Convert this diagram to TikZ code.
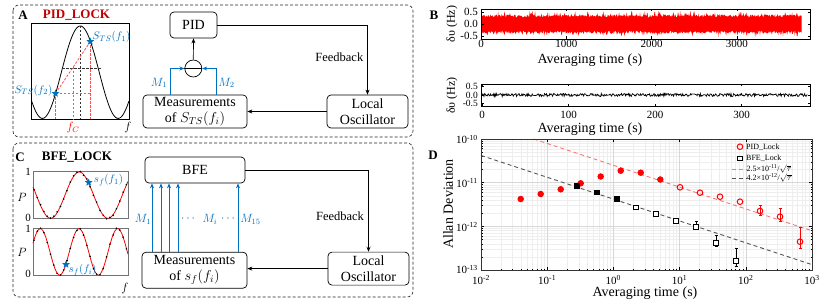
\documentclass[tikz,border=0pt]{standalone}
\usepackage{fontspec}
\setmainfont{Liberation Serif}
\usetikzlibrary{arrows.meta,shapes.geometric}
\definecolor{myblue}{RGB}{0,112,192}
\definecolor{darkred}{RGB}{192,0,0}
\definecolor{lred}{RGB}{245,120,120}
\definecolor{rdash}{RGB}{255,80,80}
\definecolor{dgray}{RGB}{85,85,85}
\definecolor{gmaj}{RGB}{215,215,215}
\definecolor{gmin}{RGB}{238,238,238}
\begin{document}
\begin{tikzpicture}[x=1pt,y=-1pt,
  panel/.style={draw=black!85, dash pattern=on 3pt off 2pt, rounded corners=6pt, line width=0.6pt},
  blk/.style={draw, rounded corners=4pt, line width=0.7pt, align=center, inner sep=0pt, font=\fontsize{14}{15.5}\selectfont},
  arr/.style={-{Stealth[length=5pt,width=4pt]}, line width=0.7pt},
  barr/.style={-{Stealth[length=5pt,width=4pt]}, line width=0.95pt, color=myblue},
  plbl/.style={font=\bfseries\fontsize{13}{15}\selectfont},
  bm/.style={text=myblue, font=\fontsize{12}{14}\selectfont},
  fb/.style={font=\fontsize{12.5}{14}\selectfont},
  rdsh/.style={draw=rdash, dash pattern=on 2.5pt off 1.5pt, line width=0.8pt},
  bdsh/.style={draw=black!80, dash pattern=on 2.5pt off 1.5pt, line width=0.7pt},
  tick/.style={font=\fontsize{11}{12}\selectfont, inner sep=0pt},
  stick/.style={font=\fontsize{9.5}{10}\selectfont, inner sep=0pt},
  axl/.style={font=\fontsize{14}{16}\selectfont, inner sep=0pt},
  dtick/.style={font=\fontsize{11}{12}\selectfont, inner sep=0pt},
  lg/.style={font=\fontsize{8}{9}\selectfont, anchor=west, inner sep=0pt},
  bstar/.style={star, star points=5, star point ratio=2.3, fill=myblue, inner sep=0pt, minimum size=8pt}
]
\useasboundingbox (0,0) rectangle (830,302);

% ---------------- panel frames
\draw[panel] (13,5) rectangle (413,137);
\draw[panel] (13,143) rectangle (413,297);

% ---------------- panel A
\node[plbl] (lA) at (23,15) {A};
\node[plbl, text=darkred] (tA) at (76.5,15) {PID\_LOCK};
\draw[line width=0.7pt] (31.3,23.5) rectangle (129,119.3);
\draw[line width=0.8pt] plot[domain=31.3:129, samples=120] (\x,{72.2-46.2*cos(4.7556*(\x-80.3))});
\draw[bdsh] (80.3,26) -- (80.3,119.3);
\draw[bdsh] (62.3,68.3) -- (100.7,68.3);
\coordinate (p2) at (55.5,93.5);
\coordinate (p1) at (90.3,41.5);
\draw[rdsh] (p2) -- (p1);
\draw[rdsh] (p2) -- (91.3,93.5);
\draw[rdsh] (p2) -- (55.5,119.3);
\draw[rdsh] (p1) -- (90.3,119.3);
\draw[rdsh] (73,67) -- (73,119.3);
\node[bstar] at (p1) {};
\node[bstar] at (p2) {};
\node[text=myblue, font=\fontsize{11}{12}\selectfont] at (111.5,37) {$S_{TS}(f_1)$};
\node[text=myblue, font=\fontsize{11}{12}\selectfont] at (33.5,90.5) {$S_{TS}(f_2)$};
\node[text=red, font=\fontsize{12}{13}\selectfont] at (73,128) {$f_C$};
\node[font=\fontsize{12}{13}\selectfont] at (128,128) {$f$};

\node[blk, minimum width=47pt, minimum height=26pt] (pid) at (193.5,25) {PID};
\node[blk, minimum width=104pt, minimum height=33pt] (measA) at (195,111.5) {Measurements\\of $S_{TS}(f_i)$};
\node[blk, minimum width=81pt, minimum height=33pt] (loA) at (367.5,111.5) {Local\\Oscillator};
\node[circle, draw, line width=0.7pt, minimum size=17pt, inner sep=0pt] (cmp) at (193.3,68.5) {};
\draw[line width=0.7pt] (cmp.west) -- (cmp.east);
\draw[arr] (cmp.north) -- (pid.south);
\draw[barr] (170.7,0 |- measA.north) |- (cmp.west);
\draw[barr] (216,0 |- measA.north) |- (cmp.east);
\node[bm] at (159,83) {$M_1$};
\node[bm] at (226.5,83) {$M_2$};
\draw[arr] (pid.east) -| (loA.north);
\node[fb] at (339.3,57.3) {Feedback};
\draw[arr] (loA.west) -- (loA.west -| measA.east);

% ---------------- panel C
\node[plbl] (lC) at (20,157) {C};
\node[plbl] (tC) at (77,157) {BFE\_LOCK};
% top plot
\draw[line width=0.7pt, draw=black!55] (33,171) rectangle (128,218.3);
\draw[red, line width=0.8pt] plot[domain=33:128, samples=120] (\x,{218.3-46.3*(1+cos(6.2827*(\x-79.3)))/2});
\pgfmathsetseed{5}
\foreach \i in {0,...,28} {
  \pgfmathsetmacro\xx{34+3.3*\i}
  \pgfmathsetmacro\yy{218.3-46.3*(1+cos(6.2827*(\xx-79.3)))/2+1.0*rand}
  \fill (\xx,\yy) circle (0.9pt);
}
\node[bstar] at (88.7,182.5) {};
\node[text=myblue, font=\fontsize{11}{12}\selectfont] at (108.5,180) {$s_f(f_1)$};
\node[tick] at (28,172) {1};
\node[tick] at (28,218) {0};
\node[font=\fontsize{12}{13}\selectfont] at (22,197) {$P$};
% bottom plot
\draw[line width=0.7pt, draw=black!55] (33,228.3) rectangle (128,275);
\draw[red, line width=0.8pt] plot[domain=33:128, samples=150] (\x,{275-46.3*(1+cos(9.3023*(\x-79)))/2});
\foreach \i in {0,...,28} {
  \pgfmathsetmacro\xx{34+3.3*\i}
  \pgfmathsetmacro\yy{275-46.3*(1+cos(9.3023*(\xx-79)))/2+1.0*rand}
  \fill (\xx,\yy) circle (0.9pt);
}
\node[bstar] at (66,264.5) {};
\node[text=myblue, font=\fontsize{11}{12}\selectfont] at (82.5,270) {$s_f(f_i)$};
\node[tick] at (28,229) {1};
\node[tick] at (28,274) {0};
\node[font=\fontsize{12}{13}\selectfont] at (22,252) {$P$};
\node[font=\fontsize{12}{13}\selectfont] at (125,288) {$f$};

\node[blk, minimum width=100pt, minimum height=26pt] (bfe) at (195,170) {BFE};
\node[blk, minimum width=105pt, minimum height=36pt] (measC) at (194.5,270.2) {Measurements\\of $s_f(f_i)$};
\node[blk, minimum width=81pt, minimum height=33pt] (loC) at (368.5,268.6) {Local\\Oscillator};
\foreach \xx in {152,161,169,178,238} {
  \draw[barr] (\xx,0 |- measC.north) -- (\xx,0 |- bfe.south);
}
\node[bm] at (143,219) {$M_1$};
\node[bm] at (188,219) {$\cdots$};
\node[bm] at (210,219) {$M_i$};
\node[bm] at (228,219) {$\cdots$};
\node[bm] at (250.5,219) {$M_{15}$};
\draw[arr] (bfe.east) -| (loC.north);
\node[fb] at (340,216) {Feedback};
\draw[arr] (loC.west) -- (loC.west -| measC.east);

% ---------------- panel B
\node[plbl] (lB) at (434,15) {B};
\pgfmathsetseed{11}
\fill[red] plot[domain=0:3760, samples=600] ({481+0.0853*\x},{24-24*(0.27+0.12*rnd+0.18*rnd^6)})
  -- plot[domain=3760:0, samples=600] ({481+0.0853*\x},{24+24*(0.27+0.12*rnd+0.18*rnd^6)}) -- cycle;
\draw[line width=0.6pt] (481,9) rectangle (810,39);
\foreach \t/\l in {0/0,1000/1000,2000/2000,3000/3000} {
  \draw[line width=0.5pt] ({481+0.0853*\t},39) -- ++(0,-2.5);
  \draw[line width=0.5pt] ({481+0.0853*\t},9) -- ++(0,2.5);
  \node[tick] at ({481+0.0853*\t},44) {\l};
}
\foreach \v/\l in {12/0.5,24/0.0,36/-0.5} {
  \draw[line width=0.5pt] (481,\v) -- ++(2.5,0);
  \draw[line width=0.5pt] (810,\v) -- ++(-2.5,0);
  \node[tick, anchor=east] at (478,\v) {\l};
}
\node[axl] at (590,60) {Averaging time (s)};
\node[rotate=90, font=\fontsize{12}{13}\selectfont] at (452,24) {δυ (Hz)};

\draw[black, line width=0.7pt] plot[domain=0:376, samples=500] ({482+0.865*\x},{95-17*(0.09*rand)});
\draw[line width=0.6pt] (481,84) rectangle (810,106.5);
\foreach \t/\l in {0/0,100/100,200/200,300/300} {
  \draw[line width=0.5pt] ({482+0.865*\t},106.5) -- ++(0,-2.5);
  \draw[line width=0.5pt] ({482+0.865*\t},84) -- ++(0,2.5);
  \node[tick] at ({482+0.865*\t},115) {\l};
}
\foreach \v/\l in {86.5/0.5,95/0.0,103.5/-0.5} {
  \draw[line width=0.5pt] (481,\v) -- ++(2.5,0);
  \draw[line width=0.5pt] (810,\v) -- ++(-2.5,0);
  \node[stick, anchor=east] at (478,\v) {\l};
}
\node[axl] at (590,129) {Averaging time (s)};
\node[rotate=90, font=\fontsize{12}{13}\selectfont] at (452,95.5) {δυ (Hz)};

% ---------------- panel D
\node[plbl] (lD) at (433,155) {D};
\begin{scope}[xshift=481pt, yshift=-270pt, x=66.2pt, y=43.67pt]
  \foreach \d in {0,...,4} \foreach \m in {2,...,9} {
    \draw[gmin, line width=0.3pt] ({\d+log10(\m)},0) -- ({\d+log10(\m)},3);
    \draw[line width=0.4pt] ({\d+log10(\m)},0) -- ++(0,1.5pt);
    \draw[line width=0.4pt] ({\d+log10(\m)},3) -- ++(0,-1.5pt);
  }
  \foreach \d in {0,...,2} \foreach \m in {2,...,9} {
    \draw[gmin, line width=0.3pt] (0,{\d+log10(\m)}) -- (5,{\d+log10(\m)});
    \draw[line width=0.4pt] (0,{\d+log10(\m)}) -- ++(1.5pt,0);
    \draw[line width=0.4pt] (5,{\d+log10(\m)}) -- ++(-1.5pt,0);
  }
  \foreach \d in {1,...,4} {
    \draw[gmaj, line width=0.6pt] (\d,0) -- (\d,3);
    \draw[line width=0.5pt] (\d,0) -- ++(0,3pt);
    \draw[line width=0.5pt] (\d,3) -- ++(0,-3pt);
  }
  \foreach \d in {1,2} {
    \draw[gmaj, line width=0.6pt] (0,\d) -- (5,\d);
    \draw[line width=0.5pt] (0,\d) -- ++(3pt,0);
    \draw[line width=0.5pt] (5,\d) -- ++(-3pt,0);
  }
  \draw[lred, dash pattern=on 4pt off 3pt, line width=0.9pt] (0.796,3) -- (5,0.898);
  \draw[dgray, dash pattern=on 4pt off 3pt, line width=0.9pt] (0,2.623) -- (5,0.123);
  \draw[line width=0.8pt, draw=black!80] (0,0) rectangle (5,3);
\end{scope}
% data: PID
\foreach \xx/\yy in {520.7/199,540.7/194,560.7/189.3,580.7/183.3,600.7/176.5,620.7/170.7,640.7/172.7,660.3/179.5} {
  \draw[red, fill=red, line width=0.8pt] (\xx,\yy) circle (2.8pt);
}
\foreach \xx/\a/\b in {760/205.5/215,780/208.3/221,800/227.3/248} {
  \draw[red, line width=0.9pt] (\xx,\a) -- (\xx,\b);
  \draw[red, line width=0.9pt] (\xx-1.5,\a) -- (\xx+1.5,\a);
  \draw[red, line width=0.9pt] (\xx-1.5,\b) -- (\xx+1.5,\b);
}
\foreach \xx/\yy in {680/187.3,700/192.7,720/196.7,740/201.7,760/211,780/216.7,800/241.7} {
  \draw[red, line width=1pt] (\xx,\yy) circle (2.8pt);
}
% data: BFE
\foreach \xx/\a/\b in {696/221/229.3,716/235/246.7,736/248.3/266.7} {
  \draw[black, line width=0.9pt] (\xx,\a) -- (\xx,\b);
  \draw[black, line width=0.9pt] (\xx-1.5,\a) -- (\xx+1.5,\a);
  \draw[black, line width=0.9pt] (\xx-1.5,\b) -- (\xx+1.5,\b);
}
\foreach \xx/\yy in {576.7/186,596.7/192.3,616.7/199} {
  \draw[black, fill=black, line width=0.8pt] (\xx-2.3,\yy-2.3) rectangle (\xx+2.3,\yy+2.3);
}
\foreach \xx/\yy in {636/207.3,656/214,676/220.7,696/226.7,716/242.7,736/260.7} {
  \draw[black, fill=white, line width=0.9pt] (\xx-2.3,\yy-2.3) rectangle (\xx+2.3,\yy+2.3);
}
% legend
\draw[red, line width=1pt] (740,146.7) circle (2.8pt);
\node[lg] at (746,147) {PID\_Lock};
\draw[black, line width=0.9pt] (737.7,156) rectangle (742.3,160.6);
\node[lg] at (746,158.3) {BFE\_Lock};
\draw[lred, dash pattern=on 4pt off 3pt, line width=0.9pt] (731.7,169.3) -- (746,169.3);
\node[lg] at (746.5,169.3) {2.5×10\textsuperscript{-11}/$\sqrt{\tau}$};
\draw[dgray, dash pattern=on 4pt off 3pt, line width=0.9pt] (731.7,178.3) -- (746,178.3);
\node[lg] at (746.5,178.3) {4.2×10\textsuperscript{-12}/$\sqrt{\tau}$};
% axis labels
\foreach \d/\e in {0/-2,1/-1,2/0,3/1,4/2,5/3} {
  \node[dtick] at ({481+66.2*\d},280) {10\textsuperscript{\e}};
}
\foreach \yy/\e in {139/-10,182.7/-11,226.3/-12,269/-13} {
  \node[dtick, anchor=east] at (478,\yy+0.5) {10\textsuperscript{\e}};
}
\node[axl, rotate=90] at (448,204) {Allan Deviation};
\node[axl] at (645,293) {Averaging time (s)};
\end{tikzpicture}
\end{document}
